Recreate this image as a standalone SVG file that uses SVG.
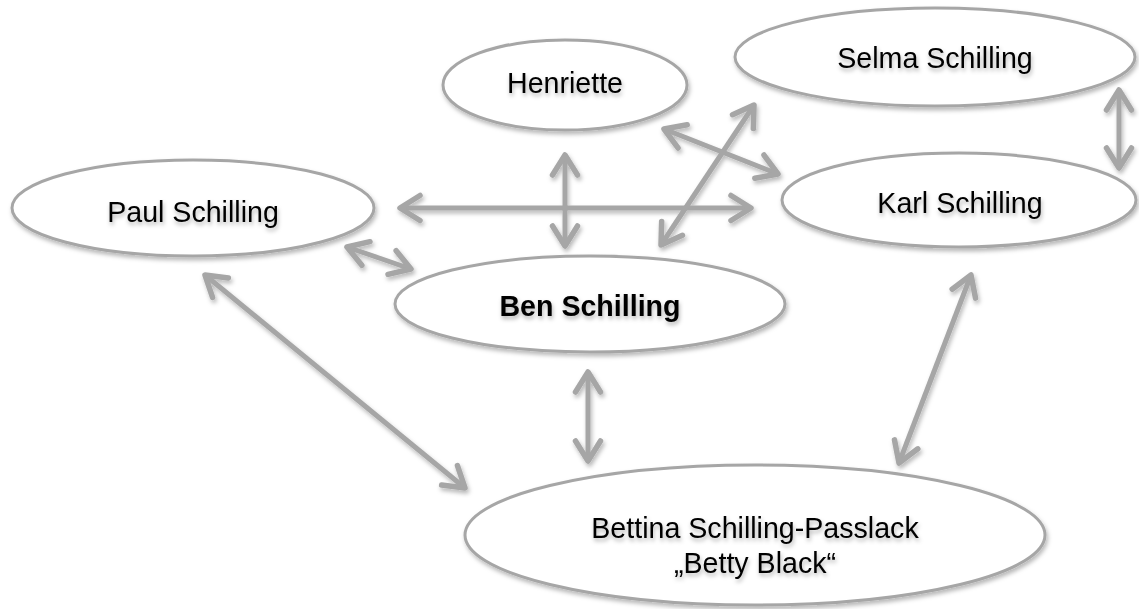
<svg xmlns="http://www.w3.org/2000/svg" width="1139" height="609" viewBox="0 0 1139 609">
<style>
  .node ellipse { fill: #ffffff; stroke: #a6a6a6; stroke-width: 3; }
  .node text { font-family: "Liberation Sans", Arial, sans-serif; font-size: 28.6px; fill: #000000; text-anchor: middle; }
  .node text.bold { font-weight: bold; }
  #connectors line { stroke: #a6a6a6; stroke-width: 5; marker-start: url(#arr); marker-end: url(#arr); }
</style>
<defs>
  <filter id="sh" x="-10%" y="-20%" width="130%" height="150%">
    <feDropShadow dx="1.5" dy="3" stdDeviation="2" flood-color="#000000" flood-opacity="0.28"/>
  </filter>
  <filter id="tsh" x="-10%" y="-30%" width="130%" height="170%">
    <feDropShadow dx="1" dy="3" stdDeviation="2" flood-color="#000000" flood-opacity="0.3"/>
  </filter>
  <marker id="arr" markerUnits="userSpaceOnUse" markerWidth="40" markerHeight="40" viewBox="-30 -20 40 40" refX="0" refY="0" orient="auto-start-reverse">
    <path d="M-20,-12.5 L0,0 L-20,12.5" fill="none" stroke="#a6a6a6" stroke-width="5.5" stroke-linecap="round" stroke-linejoin="round"/>
  </marker>
</defs>
<rect width="1139" height="609" fill="#ffffff"/>
<g id="connectors" filter="url(#sh)">
  <line x1="400" y1="208" x2="751" y2="208"/>
  <line x1="565" y1="155" x2="565" y2="246"/>
  <line x1="664" y1="129" x2="778" y2="174"/>
  <line x1="661" y1="245" x2="754" y2="105"/>
  <line x1="347" y1="247" x2="411" y2="269"/>
  <line x1="205" y1="275" x2="465" y2="488"/>
  <line x1="588" y1="372" x2="588" y2="461"/>
  <line x1="971" y1="275" x2="899" y2="463"/>
  <line x1="1119" y1="90" x2="1119" y2="168"/>
</g>
<g id="henriette" class="node">
  <ellipse cx="565" cy="85" rx="122" ry="45" filter="url(#sh)"/>
  <text x="565" y="93" filter="url(#tsh)">Henriette</text>
</g>
<g id="selma" class="node">
  <ellipse cx="935" cy="57" rx="200" ry="49" filter="url(#sh)"/>
  <text x="935" y="68" filter="url(#tsh)">Selma Schilling</text>
</g>
<g id="paul" class="node">
  <ellipse cx="193" cy="208" rx="181" ry="48" filter="url(#sh)"/>
  <text x="193" y="222" filter="url(#tsh)">Paul Schilling</text>
</g>
<g id="karl" class="node">
  <ellipse cx="959" cy="200" rx="177" ry="47" filter="url(#sh)"/>
  <text x="960" y="213" filter="url(#tsh)">Karl Schilling</text>
</g>
<g id="ben" class="node">
  <ellipse cx="590" cy="304" rx="195" ry="48" filter="url(#sh)"/>
  <text class="bold" x="590" y="316" filter="url(#tsh)">Ben Schilling</text>
</g>
<g id="bettina" class="node">
  <ellipse cx="755" cy="535" rx="290" ry="70" filter="url(#sh)"/>
  <text x="755" y="538" filter="url(#tsh)">Bettina Schilling-Passlack</text>
  <text x="755" y="573" filter="url(#tsh)">„Betty Black“</text>
</g>
</svg>
